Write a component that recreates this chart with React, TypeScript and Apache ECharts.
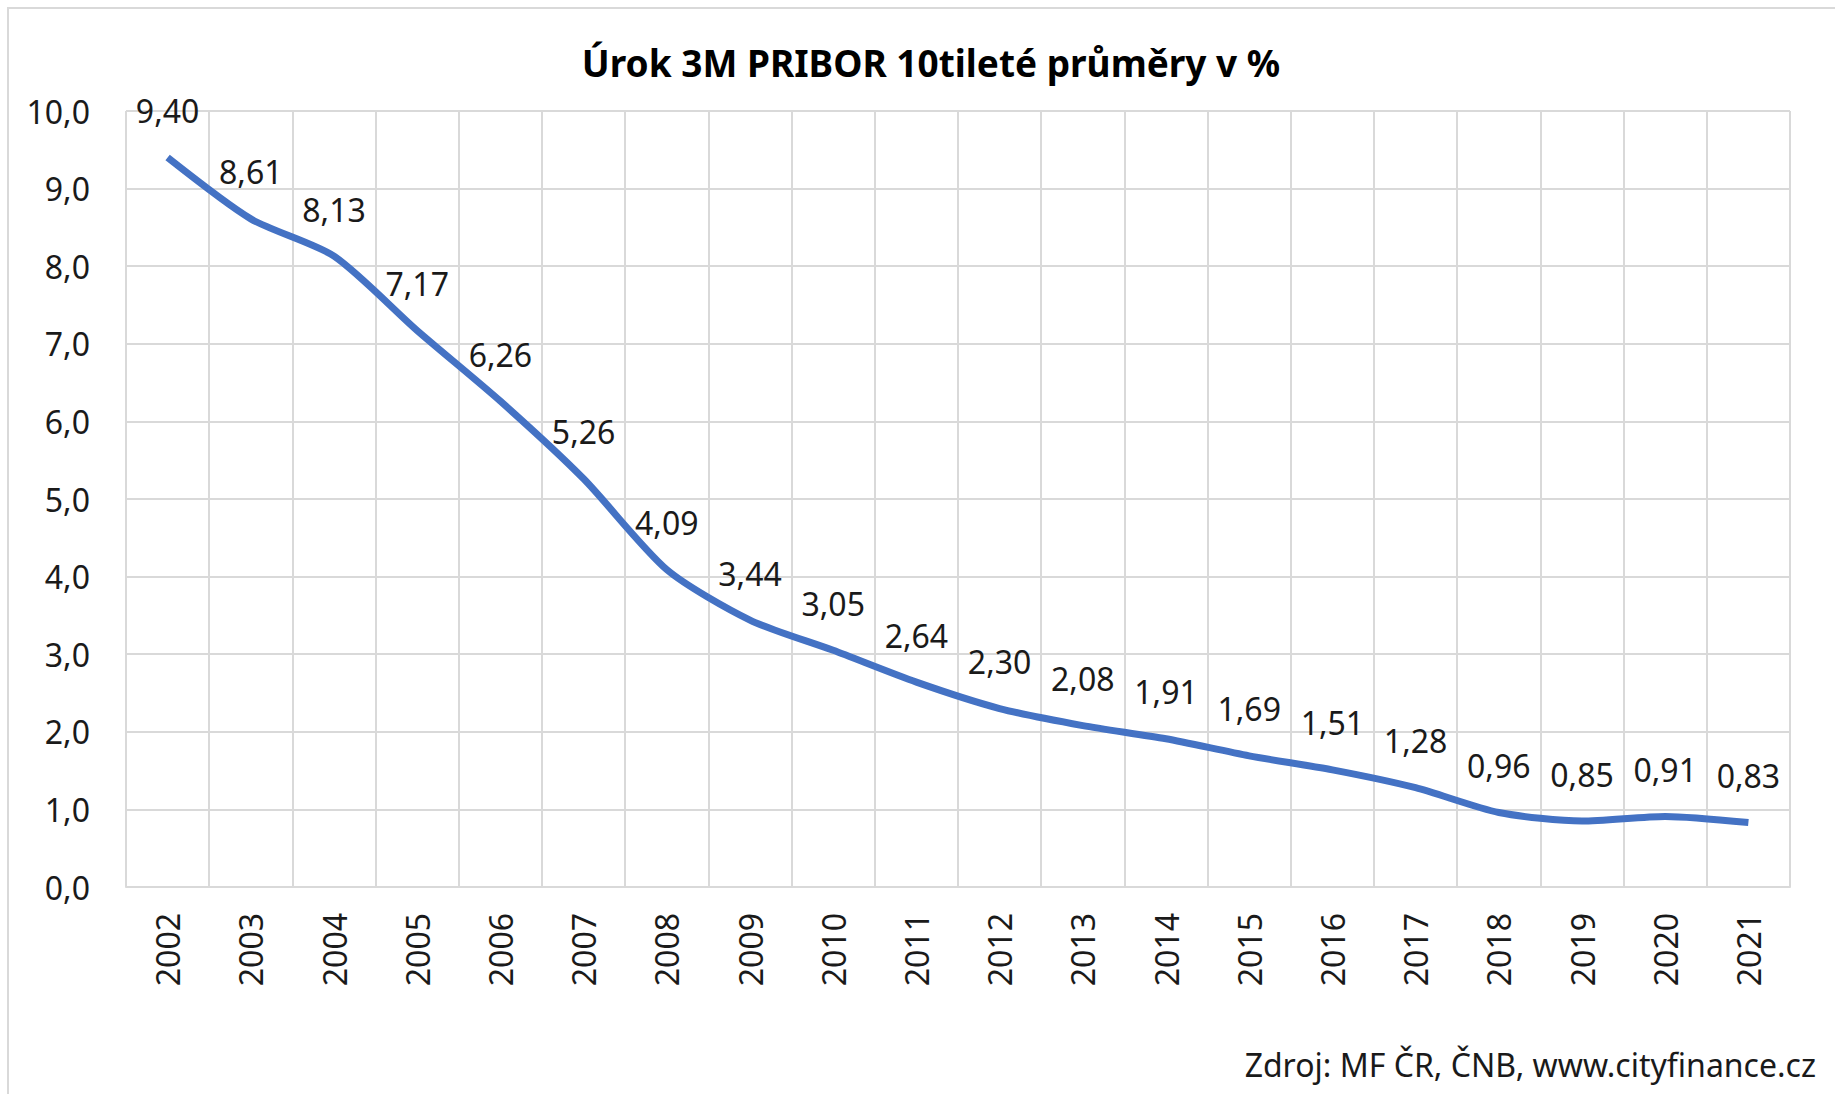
import React, { useEffect, useRef } from "react";
import * as echarts from "echarts";

const years = ["2002","2003","2004","2005","2006","2007","2008","2009","2010","2011","2012","2013","2014","2015","2016","2017","2018","2019","2020","2021"];
const pribor = [9.40, 8.61, 8.13, 7.17, 6.26, 5.26, 4.09, 3.44, 3.05, 2.64, 2.30, 2.08, 1.91, 1.69, 1.51, 1.28, 0.96, 0.85, 0.91, 0.83];
const titleText = "Úrok 3M PRIBOR 10tileté průměry v %";
const sourceText = "Zdroj: MF ČR, ČNB, www.cityfinance.cz";

const FONT = "'Noto Sans', 'Open Sans', sans-serif";

export default function App() {
  const ref = useRef<HTMLDivElement>(null);
  useEffect(() => {
    if (!ref.current) return;
    const chart = echarts.init(ref.current, null, { renderer: "svg" });
    chart.setOption({
      animation: false,
      backgroundColor: "#ffffff",
      title: {
        text: titleText,
        left: 926,
        top: 39,
        textAlign: "center",
        textStyle: { fontFamily: FONT, fontWeight: "bold", fontSize: 37, color: "#000000" },
      },
      graphic: [
        {
          type: "rect",
          shape: { x: 8, y: 8, width: 1900, height: 1200 },
          style: { fill: "none", stroke: "#d9d9d9", lineWidth: 2 },
          silent: true,
        },
        {
          type: "text",
          right: 19,
          top: 1048,
          style: { text: sourceText, font: `32px ${FONT}`, fill: "#1a1a1a" },
        },
      ],
      grid: { left: 126, right: 45, top: 111, bottom: 207, containLabel: false },
      xAxis: {
        type: "category",
        data: years,
        boundaryGap: true,
        axisLine: { show: true, lineStyle: { color: "#d9d9d9", width: 2 } },
        axisTick: { show: false },
        splitLine: { show: true, lineStyle: { color: "#d9d9d9", width: 2 } },
        axisLabel: {
          rotate: 90,
          margin: 26,
          fontFamily: FONT,
          fontSize: 32,
          color: "#1a1a1a",
          interval: 0,
        },
      },
      yAxis: {
        type: "value",
        min: 0,
        max: 10,
        interval: 1,
        axisLine: { show: false },
        axisTick: { show: false },
        splitLine: { show: true, lineStyle: { color: "#d9d9d9", width: 2 } },
        axisLabel: {
          margin: 36,
          fontFamily: FONT,
          fontSize: 32,
          color: "#1a1a1a",
          formatter: (v: number) => v.toFixed(1).replace(".", ","),
        },
      },
      series: [
        {
          type: "line",
          data: pribor,
          smooth: 0.25,
          showSymbol: true,
          showAllSymbol: true,
          symbol: "circle",
          symbolSize: 2,
          itemStyle: { color: "rgba(0,0,0,0)", borderWidth: 0 },
          lineStyle: { color: "#4472C4", width: 7 },
          label: {
            show: true,
            position: "top",
            distance: 30,
            fontFamily: FONT,
            fontSize: 32,
            color: "#1a1a1a",
            opacity: 1,
            formatter: (p: any) => Number(p.value).toFixed(2).replace(".", ","),
          },
        },
      ],
    });
    return () => chart.dispose();
  }, []);
  return (
    <div
      ref={ref}
      style={{ position: "absolute", left: 0, top: 0, width: 1835, height: 1094 }}
    />
  );
}
